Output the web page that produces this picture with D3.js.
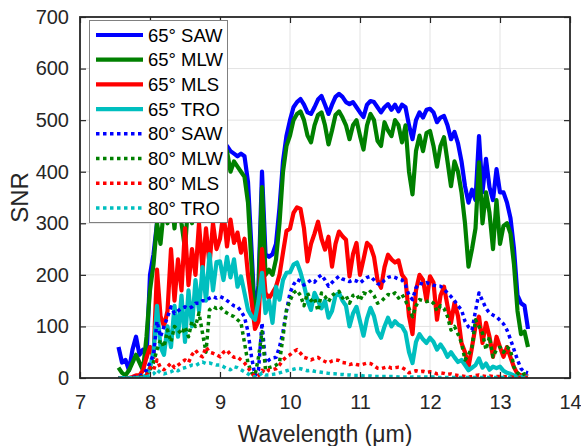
<!DOCTYPE html>
<html><head><meta charset="utf-8">
<script src="https://cdn.jsdelivr.net/npm/d3@7/dist/d3.min.js"></script>
<style>body{margin:0;background:#fff}svg{display:block}</style>
</head><body>
<svg id="c" width="581" height="446"></svg>
<script>
const wavelength = [
7.55,7.60,7.65,7.70,7.75,7.80,7.85,7.90,7.95,
8.00,8.05,8.10,8.15,8.20,8.25,8.30,8.35,8.40,8.45,
8.50,8.55,8.60,8.65,8.70,8.75,8.80,8.85,8.90,8.95,
9.00,9.05,9.10,9.15,9.20,9.25,9.30,9.35,9.40,9.45,
9.50,9.55,9.60,9.65,9.70,9.75,9.80,9.85,9.90,9.95,
10.00,10.05,10.10,10.15,10.20,10.25,10.30,10.35,10.40,10.45,
10.50,10.55,10.60,10.65,10.70,10.75,10.80,10.85,10.90,10.95,
11.00,11.05,11.10,11.15,11.20,11.25,11.30,11.35,11.40,11.45,
11.50,11.55,11.60,11.65,11.70,11.75,11.80,11.85,11.90,11.95,
12.00,12.05,12.10,12.15,12.20,12.25,12.30,12.35,12.40,12.45,
12.50,12.55,12.60,12.65,12.70,12.75,12.80,12.85,12.90,12.95,
13.00,13.05,13.10,13.15,13.20,13.25,13.30,13.35,13.40];

const saw65 = [
60,30,35,15,55,80,45,55,40,
200,240,300,340,400,380,420,360,420,390,
430,380,420,400,430,390,440,420,445,430,
440,445,450,440,435,430,435,430,380,250,
115,180,400,240,235,240,260,330,420,470,
500,525,535,541,530,515,512,525,540,547,
530,512,530,545,551,545,535,531,535,525,
515,506,530,537,535,525,515,525,531,520,
530,517,530,525,490,463,500,515,505,520,
522,515,496,505,508,490,463,477,455,420,
372,340,365,345,469,360,425,370,345,405,
360,360,340,310,250,160,145,140,95];

const mlw65 = [
20,10,5,15,30,45,30,15,80,
170,220,300,260,330,300,360,290,380,300,
250,350,300,380,330,390,350,400,380,410,
400,420,440,400,420,410,400,390,340,220,
110,160,370,200,210,200,230,300,400,450,
470,500,512,517,500,470,457,490,510,515,
490,453,480,510,517,505,490,463,490,500,
470,443,490,512,500,460,450,496,480,469,
500,490,457,490,400,356,440,470,440,475,
479,450,410,450,467,420,372,420,400,360,
300,216,250,290,418,300,360,320,250,345,
260,295,300,280,220,130,85,90,60];

const mls65 = [
0,0,0,0,2,5,5,15,40,
60,40,210,120,100,130,250,150,230,170,
290,180,250,200,300,210,290,220,300,250,
270,321,255,307,262,282,243,270,200,150,
95,110,250,165,155,165,177,200,243,285,
290,320,331,328,290,226,260,280,303,270,
249,274,216,260,284,275,268,197,240,262,
200,230,262,255,235,190,175,215,239,230,
224,228,200,191,120,85,170,200,190,150,
197,185,113,160,177,140,107,146,120,68,
50,21,60,100,119,68,107,80,41,80,
60,41,60,40,21,8,5,5,3];

const tro65 = [
0,0,0,0,0,0,1,2,5,
20,50,140,60,45,100,60,140,80,160,
70,170,100,190,130,215,150,240,170,225,
226,190,235,195,230,177,197,165,132,120,
113,150,204,126,150,107,177,152,190,204,
205,220,224,205,180,150,132,165,150,135,
150,117,130,160,165,150,140,100,125,138,
110,82,115,136,120,90,78,100,117,100,
110,103,100,88,50,29,70,85,75,68,
78,70,55,65,55,41,50,40,31,35,
25,15,20,25,38,20,28,16,22,19,
22,14,10,8,5,3,2,2,2];

const saw80 = [
0,0,0,0,1,2,3,8,15,
30,45,110,80,100,118,138,125,130,135,
138,135,138,145,145,150,150,155,158,155,
158,155,150,145,140,138,130,118,90,41,
5,15,107,29,35,39,40,60,90,130,
165,181,191,188,180,185,190,186,195,200,
190,178,185,192,197,192,190,187,190,188,
184,190,195,197,190,183,181,190,195,197,
195,192,190,180,160,152,175,184,182,185,
183,180,178,178,172,165,158,150,140,132,
110,99,93,130,165,150,135,126,122,119,
112,105,93,75,55,35,18,12,10];

const mlw80 = [
0,0,0,0,0,1,2,3,5,
15,30,55,74,60,93,70,100,93,85,
99,80,110,100,126,87,50,132,138,135,
138,130,126,122,119,113,107,68,29,10,
5,40,90,16,20,22,25,30,80,132,
150,165,170,160,140,165,150,155,130,165,
158,148,160,165,168,155,160,145,160,162,
150,165,162,168,160,145,148,155,162,160,
165,155,162,150,135,119,140,152,150,148,
150,145,130,140,135,119,93,100,85,68,
35,45,60,113,100,87,55,80,41,55,
60,50,60,55,21,10,5,8,8];

const mls80 = [
0,0,0,0,0,0,1,2,5,
20,15,35,20,16,22,29,20,25,30,
35,30,45,54,45,41,60,50,48,45,
41,50,54,45,40,41,35,29,20,10,
2,5,15,10,16,16,18,25,35,41,
45,51,55,48,40,38,35,38,40,35,
32,29,33,35,34,30,29,26,28,26,
25,27,29,28,24,19,18,20,22,19,
20,21,20,16,10,12,14,12,13,11,
12,11,8,10,9,7,8,6,5,4,
3,2,3,5,6,4,3,4,3,3,
3,3,2,2,1,1,1,1,1];

const tro80 = [
0,0,0,0,0,0,0,1,2,
5,8,16,10,8,10,12,16,14,18,
20,22,25,24,28,31,28,29,27,25,
25,22,18,16,22,20,16,12,8,3,
2,4,10,6,6,7,8,10,12,14,
16,17,19,18,16,14,15,13,12,11,
10,9,8,8,7,7,6,6,5,5,
5,4,4,4,3,3,3,3,3,3,
3,2,2,2,1,2,2,2,2,2,
2,2,1,1,1,1,1,1,1,1,
1,1,1,1,1,1,1,1,1,1,
1,1,1,1,0,0,0,0,0];

const seriesNames = ["65° SAW","65° MLW","65° MLS","65° TRO","80° SAW","80° MLW","80° MLS","80° TRO"];
const seriesValues = [saw65, mlw65, mls65, tro65, saw80, mlw80, mls80, tro80];
const seriesColors = ["#0000ff","#008000","#ff0000","#00bfbf","#0000ff","#008000","#ff0000","#00bfbf"];
const seriesDotted = [false,false,false,false,true,true,true,true];
const xTicks = [7,8,9,10,11,12,13,14];
const yTicks = [0,100,200,300,400,500,600,700];

const L = 80, R = 570, T = 17, B = 378;
const svg = d3.select("#c");
const x = d3.scaleLinear().domain([7,14]).range([L,R]);
const y = d3.scaleLinear().domain([0,700]).range([B,T]);
const axisCol = "#262626";
const font = "'Liberation Sans', Arial, Helvetica, sans-serif";

svg.append("defs").append("clipPath").attr("id","clip")
  .append("rect").attr("x",L).attr("y",T).attr("width",R-L).attr("height",B-T);

// grid
const g = svg.append("g");
g.selectAll(".gx").data(xTicks.slice(1,-1)).enter().append("line")
  .attr("x1",d=>x(d)).attr("x2",d=>x(d)).attr("y1",T).attr("y2",B)
  .attr("stroke","#e3e3e3").attr("stroke-width",1);
g.selectAll(".gy").data(yTicks.slice(1,-1)).enter().append("line")
  .attr("y1",d=>y(d)).attr("y2",d=>y(d)).attr("x1",L).attr("x2",R)
  .attr("stroke","#e3e3e3").attr("stroke-width",1);

// lines
const line = d3.line().x((d,i)=>x(wavelength[i])).y(d=>y(d));
const lg = svg.append("g").attr("clip-path","url(#clip)");
seriesValues.forEach((vals,k)=>{
  lg.append("path").attr("d",line(vals)).attr("fill","none")
    .attr("stroke",seriesColors[k])
    .attr("stroke-width",seriesDotted[k]?3.5:4.2)
    .attr("stroke-linejoin","round")
    .attr("stroke-dasharray",seriesDotted[k]?"3.5,3.5":null);
});

// axes
const xb = d3.axisBottom(x).tickValues(xTicks).tickSize(-6).tickPadding(17).tickFormat(d3.format("d"));
const xt = d3.axisTop(x).tickValues(xTicks).tickSize(-6).tickFormat("");
const yl = d3.axisLeft(y).tickValues(yTicks).tickSize(-6).tickPadding(11).tickFormat(d3.format("d"));
const yr = d3.axisRight(y).tickValues(yTicks).tickSize(-6).tickFormat("");
function style(sel){
  sel.select(".domain").remove();
  sel.selectAll("line").attr("stroke",axisCol).attr("stroke-width",1.2);
  sel.selectAll("text").attr("fill",axisCol).style("font-family",font).style("font-size","20px");
}
svg.append("g").attr("transform",`translate(0,${B})`).call(xb).call(style);
svg.append("g").attr("transform",`translate(0,${T})`).call(xt).call(style);
svg.append("g").attr("transform",`translate(${L},0)`).call(yl).call(style);
svg.append("g").attr("transform",`translate(${R},0)`).call(yr).call(style);
svg.append("rect").attr("x",L).attr("y",T).attr("width",R-L).attr("height",B-T)
  .attr("fill","none").attr("stroke",axisCol).attr("stroke-width",1.8);

// labels
svg.append("text").attr("x",(L+R)/2).attr("y",442).attr("text-anchor","middle")
  .attr("fill",axisCol).style("font-family",font).style("font-size","23px").text("Wavelength (μm)");
svg.append("text").attr("transform",`translate(28,${(T+B)/2}) rotate(-90)`).attr("text-anchor","middle")
  .attr("fill",axisCol).style("font-family",font).style("font-size","24px").text("SNR");

// legend
const leg = svg.append("g");
leg.append("rect").attr("x",89.5).attr("y",20.5).attr("width",138).attr("height",202)
  .attr("fill","#fff").attr("stroke","#808080").attr("stroke-width",1);
seriesNames.forEach((n,k)=>{
  const yy = 35 + k*24.7;
  leg.append("line").attr("x1",96).attr("x2",143).attr("y1",yy).attr("y2",yy)
    .attr("stroke",seriesColors[k]).attr("stroke-width",seriesDotted[k]?3.5:4.2)
    .attr("stroke-dasharray",seriesDotted[k]?"3.5,3.5":null);
  leg.append("text").attr("x",148).attr("y",yy).attr("dy","0.36em")
    .attr("fill","#000").style("font-family",font).style("font-size","18.5px").text(n);
});
</script>
</body></html>
